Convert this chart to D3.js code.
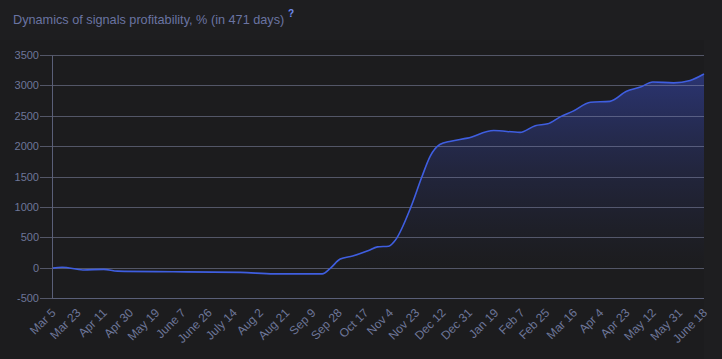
<!DOCTYPE html>
<html><head><meta charset="utf-8">
<script src="https://cdn.jsdelivr.net/npm/d3@7/dist/d3.min.js"></script>
<style>
html,body{margin:0;padding:0;background:#1e1e20;}
svg{display:block;font-family:"Liberation Sans",Arial,sans-serif;}
</style></head><body>
<svg id="c" width="722" height="359"></svg>
<script>
const titleText = "Dynamics of signals profitability, % (in 471 days)";
const startDate = "2023-03-05";
const tickLabels = ["Mar 5","Mar 23","Apr 11","Apr 30","May 19","June 7","June 26","July 14","Aug 2","Aug 21","Sep 9","Sep 28","Oct 17","Nov 4","Nov 23","Dec 12","Dec 31","Jan 19","Feb 7","Feb 25","Mar 16","Apr 4","Apr 23","May 12","May 31","June 18"];
const tickDates = ["2023-03-05","2023-03-23","2023-04-11","2023-04-30","2023-05-19","2023-06-07","2023-06-26","2023-07-14","2023-08-02","2023-08-21","2023-09-09","2023-09-28","2023-10-17","2023-11-04","2023-11-23","2023-12-12","2023-12-31","2024-01-19","2024-02-07","2024-02-25","2024-03-16","2024-04-04","2024-04-23","2024-05-12","2024-05-31","2024-06-18"];
const yTicks = [-500,0,500,1000,1500,2000,2500,3000,3500];
// day offset from start, profitability %
const days   = [0, 7, 22, 37, 47, 87, 136, 160, 195, 201, 208, 217, 228, 235, 243, 248, 259, 267, 273, 280, 288, 300, 319, 338, 349, 358, 367, 376, 389, 403, 415, 425, 434, 449, 461, 471];
const profit = [0, 15, -30, -20, -50, -60, -70, -95, -95, 0, 150, 200, 285, 350, 360, 465, 1000, 1500, 1840, 2035, 2090, 2140, 2265, 2235, 2345, 2375, 2490, 2580, 2730, 2745, 2910, 2980, 3065, 3050, 3090, 3195];

const parse = d3.utcParse("%Y-%m-%d");
const t0 = parse(startDate);
const svg = d3.select("#c");
const L = 52.5, R = 704, T = 55.5, B = 298.5;

const x = d3.scaleLinear().domain([0, 471]).range([L, R]);
const y = d3.scaleLinear().domain([-500, 3500]).range([B, T]);

svg.append("rect").attr("width",722).attr("height",359).attr("fill","#1e1e20");
svg.append("rect").attr("x",0).attr("y",40).attr("width",R).attr("height",319).attr("fill","#1c1c1e");

// title
svg.append("text").attr("x",13).attr("y",23.5).attr("fill","#6a74a2").attr("font-size",12.7).text(titleText);
svg.append("text").attr("x",288).attr("y",17).attr("fill","#6e8cf0").attr("font-size",10).attr("font-weight","bold").text("?");

// gradient
const defs = svg.append("defs");
const g = defs.append("linearGradient").attr("id","ag")
  .attr("gradientUnits","userSpaceOnUse").attr("x1",0).attr("x2",0).attr("y1",T).attr("y2",y(0));
g.append("stop").attr("offset","0%").attr("stop-color","#3444a8").attr("stop-opacity",0.7);
g.append("stop").attr("offset","100%").attr("stop-color","#2a3160").attr("stop-opacity",0.0);

const pts = days.map((d,i)=>[d, profit[i]]);
const area = d3.area().x(d=>x(d[0])).y0(B).y1(d=>y(d[1])).curve(d3.curveMonotoneX);
const line = d3.line().x(d=>x(d[0])).y(d=>y(d[1])).curve(d3.curveMonotoneX);
svg.append("path").datum(pts).attr("d",area).attr("fill","url(#ag)");

// grid
const gy = d => Math.floor(y(d)) + 0.5;
svg.append("g").selectAll("line").data(yTicks).join("line")
  .attr("x1",40).attr("x2",R).attr("y1",gy).attr("y2",gy)
  .attr("stroke","#8a8fb0").attr("stroke-opacity",0.5).attr("stroke-width",1);

// y labels
svg.append("g").selectAll("text").data(yTicks).join("text")
  .attr("x",39).attr("y",d=>gy(d)+3.5).attr("text-anchor","end")
  .attr("fill","#6d7699").attr("font-size",11).text(d=>d);

svg.append("path").datum(pts).attr("d",line).attr("fill","none").attr("stroke","#3f5ee0").attr("stroke-width",1.6);

// axes lines
svg.append("line").attr("x1",L).attr("x2",L).attr("y1",T).attr("y2",B).attr("stroke","#5a5f78");
svg.append("line").attr("x1",L).attr("x2",R).attr("y1",B).attr("y2",B).attr("stroke","#5a5f78");

// x labels
const tickDays = tickDates.map(s => d3.utcDay.count(t0, parse(s)));
svg.append("g").selectAll("text").data(tickLabels).join("text")
  .attr("transform",(d,i)=>`translate(${x(tickDays[i])+4},${B+15}) rotate(-45)`)
  .attr("text-anchor","end").attr("fill","#6d7699").attr("font-size",12).text(d=>d);
</script></body></html>
